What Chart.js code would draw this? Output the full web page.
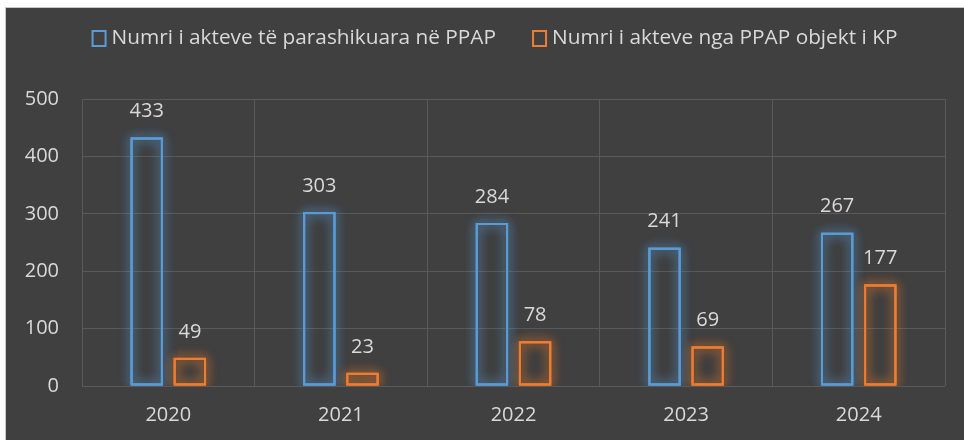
<!DOCTYPE html>
<html>
<head>
<meta charset="utf-8">
<script src="https://cdn.jsdelivr.net/npm/chart.js@4.4.1/dist/chart.umd.min.js"></script>
<style>
  html, body { margin: 0; padding: 0; background: #ffffff; }
  #wrap {
    position: absolute; left: 5px; top: 7px; width: 959px; height: 433px;
    background: #404040; border-top: 1px solid #c8c8c8; border-left: 1px solid #c8c8c8;
  }
</style>
</head>
<body>
<div id="wrap"><canvas id="chart"></canvas></div>
<script>
// ---------- Data ----------
const years = ['2020', '2021', '2022', '2023', '2024'];
const plannedActs = [433, 303, 284, 241, 267];
const reviewedActs = [49, 23, 78, 69, 177];
const seriesNames = ['Numri i akteve të parashikuara në PPAP', 'Numri i akteve nga PPAP objekt i KP'];
const yTicks = [0, 100, 200, 300, 400, 500];

const BLUE = '#5B9BD5';
const ORANGE = '#ED7D31';
const TEXT = '#D9D9D9';
const GRID = '#5a5a5a';
const FONT = '"Open Sans", "Noto Sans", sans-serif';

// ---------- Plugins ----------
// soft glow under the bar outlines, using the bar geometry Chart.js computed
const glowPlugin = {
    id: 'glow',
    beforeDatasetDraw(chart, args) {
        const ctx = chart.ctx;
        const a = chart.chartArea;
        const color = args.index === 0 ? 'rgba(91,155,213,0.8)' : 'rgba(237,125,49,0.8)';
        ctx.save();
        ctx.beginPath();
        ctx.rect(a.left, a.top - 40, a.right - a.left, a.bottom - a.top + 40);
        ctx.clip();
        ctx.strokeStyle = color;
        ctx.shadowColor = color;
        ctx.shadowBlur = 12;
        ctx.lineWidth = 2;
        args.meta.data.forEach(el => {
            const p = el.getProps(['x', 'y', 'base', 'width'], true);
            const left = p.x - p.width / 2;
            for (let k = 0; k < 3; k++) {
                ctx.strokeRect(left + 1, p.y + 1, p.width - 2, p.base - p.y - 2);
            }
        });
        ctx.restore();
    }
};

// value labels above bars
const valueLabels = {
    id: 'valueLabels',
    afterDatasetsDraw(chart) {
        const ctx = chart.ctx;
        ctx.save();
        ctx.fillStyle = TEXT;
        ctx.font = '20px ' + FONT;
        ctx.textAlign = 'center';
        ctx.textBaseline = 'middle';
        chart.data.datasets.forEach((ds, i) => {
            chart.getDatasetMeta(i).data.forEach((bar, j) => {
                ctx.fillText(String(ds.data[j]), bar.x, bar.y - 26);
            });
        });
        ctx.restore();
    }
};

// legend with hollow boxes
const topLegend = {
    id: 'topLegend',
    afterDraw(chart) {
        const ctx = chart.ctx;
        ctx.save();
        ctx.font = '20.8px ' + FONT;
        ctx.textBaseline = 'middle';
        const box = 15, gapText = 5, gapItem = 36;
        const widths = seriesNames.map(n => box + gapText + ctx.measureText(n).width);
        const total = widths[0] + widths[1] + gapItem;
        let x = (chart.width - total) / 2 + 9;
        const y = 30;
        const colors = [BLUE, ORANGE];
        seriesNames.forEach((n, i) => {
            ctx.strokeStyle = colors[i];
            ctx.lineWidth = 2;
            ctx.strokeRect(x + 1, y - 7, box - 2, 15);
            ctx.fillStyle = TEXT;
            ctx.textAlign = 'left';
            ctx.fillText(n, x + box + gapText, y);
            x += widths[i] + gapItem;
        });
        ctx.restore();
    }
};

// ---------- Chart ----------
const ctx = document.getElementById('chart').getContext('2d');
const chart = new Chart(ctx, {
    type: 'bar',
    data: {
        labels: years,
        datasets: [
            {
                label: seriesNames[0], data: plannedActs,
                backgroundColor: 'rgba(0,0,0,0)', borderColor: BLUE, borderWidth: 2,
                borderSkipped: false, categoryPercentage: 0.5, barPercentage: 0.75
            },
            {
                label: seriesNames[1], data: reviewedActs,
                backgroundColor: 'rgba(0,0,0,0)', borderColor: ORANGE, borderWidth: 2,
                borderSkipped: false, categoryPercentage: 0.5, barPercentage: 0.75
            }
        ]
    },
    options: {
        responsive: true,
        maintainAspectRatio: false,
        animation: false,
        layout: { padding: { top: 91, right: 20, left: 0, bottom: 0 } },
        plugins: { legend: { display: false }, tooltip: { enabled: false } },
        scales: {
            x: {
                grid: { color: GRID, lineWidth: 1, drawTicks: false, offset: true },
                border: { display: false },
                ticks: { color: TEXT, font: { family: FONT, size: 20 }, padding: 17 },
                afterFit(scale) { scale.height = 55; }
            },
            y: {
                min: 0, max: 500,
                grid: { color: GRID, lineWidth: 1, drawTicks: false },
                border: { display: false },
                afterBuildTicks(scale) { scale.ticks = yTicks.map(v => ({ value: v })); },
                ticks: { color: TEXT, font: { family: FONT, size: 20 }, padding: 23 },
                afterFit(scale) { scale.width = 76; }
            }
        }
    },
    plugins: [glowPlugin, valueLabels, topLegend]
});
</script>
</body>
</html>
